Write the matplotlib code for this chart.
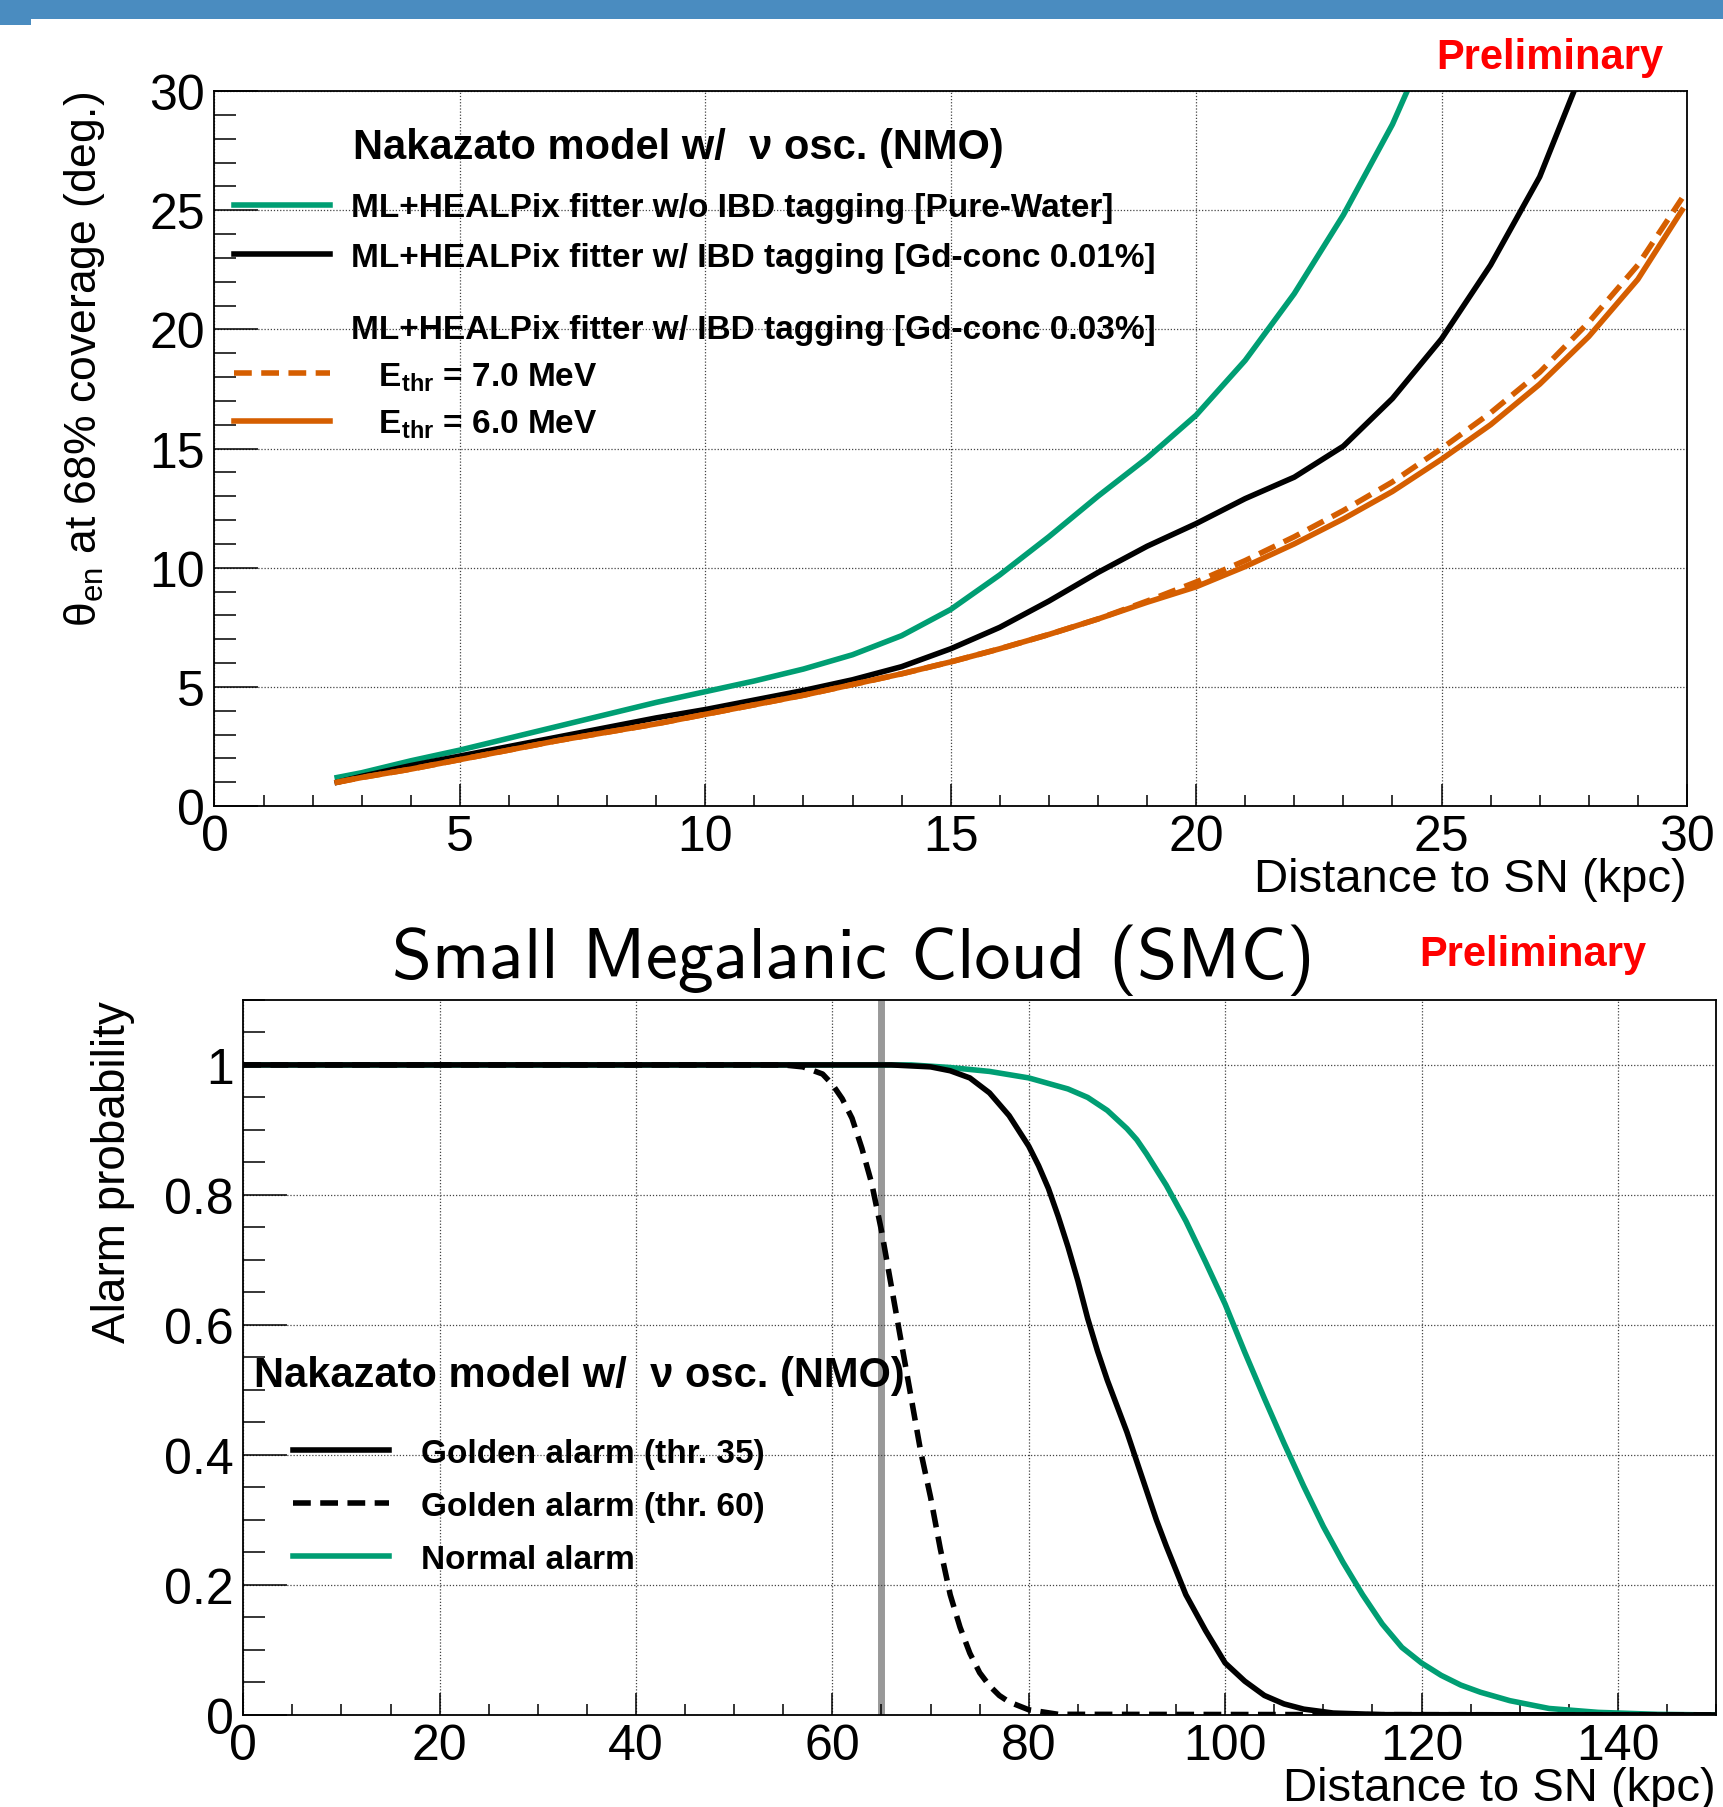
import matplotlib
matplotlib.use("Agg")
import matplotlib.pyplot as plt
from matplotlib.lines import Line2D
from matplotlib.patches import Rectangle
from matplotlib.ticker import MultipleLocator, FuncFormatter

plt.rcParams['font.family'] = ['Liberation Sans Narrow', 'Liberation Sans', 'DejaVu Sans']
plt.rcParams['mathtext.fontset'] = 'custom'
plt.rcParams['mathtext.rm'] = 'Liberation Sans'
plt.rcParams['mathtext.bf'] = 'Liberation Sans:bold'
plt.rcParams['mathtext.it'] = 'Liberation Sans:italic'

GREEN = '#009E73'
ORANGE = '#D55E00'

# ---- top panel: pointing resolution vs distance
dist_water = [2.5, 3, 4, 5, 6, 7, 8, 9, 10, 11, 12, 13, 14, 15, 16, 17, 18, 19, 20, 21, 22, 23, 24, 24.3]
theta_water = [1.2, 1.4, 1.9, 2.35, 2.85, 3.35, 3.85, 4.35, 4.8, 5.25, 5.75, 6.35, 7.15, 8.25, 9.7, 11.3,
               13.0, 14.6, 16.4, 18.7, 21.5, 24.8, 28.6, 30.0]

dist_gd01 = [2.5, 3, 4, 5, 6, 7, 8, 9, 10, 11, 12, 13, 14, 15, 16, 17, 18, 19, 20, 21, 22, 23, 24, 25,
             26, 27, 27.7]
theta_gd01 = [1.0, 1.25, 1.7, 2.1, 2.5, 2.9, 3.3, 3.7, 4.05, 4.45, 4.85, 5.3, 5.85, 6.6, 7.5, 8.6, 9.8,
              10.9, 11.85, 12.9, 13.8, 15.1, 17.1, 19.6, 22.7, 26.4, 30.0]

dist_gd03 = [2.5, 3, 4, 5, 6, 7, 8, 9, 10, 11, 12, 13, 14, 15, 16, 17, 18, 19, 20, 21, 22, 23, 24, 25,
             26, 27, 28, 29, 29.9]
theta_gd03_7mev = [1.0, 1.2, 1.55, 1.95, 2.35, 2.75, 3.1, 3.45, 3.85, 4.25, 4.65, 5.1, 5.55, 6.05, 6.6,
                   7.2, 7.85, 8.6, 9.4, 10.3, 11.3, 12.4, 13.6, 15.0, 16.5, 18.2, 20.3, 22.7, 25.5]
theta_gd03_6mev = [1.0, 1.2, 1.55, 1.95, 2.35, 2.75, 3.1, 3.45, 3.85, 4.25, 4.65, 5.1, 5.55, 6.05, 6.6,
                   7.2, 7.85, 8.55, 9.2, 10.05, 11.0, 12.05, 13.2, 14.55, 16.0, 17.7, 19.7, 22.1, 25.0]

# ---- bottom panel: alarm probability vs distance
dist_g60 = [0, 55, 57, 59, 60, 61, 62, 63, 64, 65, 66, 67, 68, 69, 70, 71, 72, 73, 74, 75, 76, 77, 78,
            80, 83, 150]
prob_g60 = [1, 1, 0.997, 0.986, 0.97, 0.948, 0.918, 0.872, 0.818, 0.745, 0.66, 0.575, 0.49, 0.405,
            0.335, 0.255, 0.185, 0.135, 0.095, 0.065, 0.045, 0.03, 0.02, 0.008, 0.001, 0]

dist_g35 = [0, 66, 70, 72, 74, 76, 78, 80, 81, 82, 83, 84, 85, 86, 87, 88, 89, 90, 91, 92, 93, 94, 96,
            98, 100, 102, 104, 106, 108, 111, 116, 150]
prob_g35 = [1, 1, 0.997, 0.991, 0.98, 0.957, 0.922, 0.875, 0.845, 0.81, 0.767, 0.72, 0.668, 0.61, 0.56,
            0.515, 0.475, 0.435, 0.39, 0.345, 0.3, 0.26, 0.185, 0.13, 0.08, 0.052, 0.03, 0.017, 0.009,
            0.003, 0.0005, 0]

dist_normal = [0, 68, 72, 76, 80, 84, 86, 88, 90, 91, 92, 94, 96, 98, 100, 102, 104, 106, 108, 110,
               112, 114, 116, 118, 120, 122, 124, 126, 129, 133, 138, 144, 150]
prob_normal = [1, 1, 0.996, 0.99, 0.98, 0.963, 0.95, 0.93, 0.902, 0.885, 0.863, 0.815, 0.76, 0.697,
               0.632, 0.558, 0.487, 0.418, 0.352, 0.29, 0.235, 0.185, 0.14, 0.104, 0.08, 0.061,
               0.046, 0.035, 0.022, 0.01, 0.004, 0.001, 0]

smc_distance = 65

LW = 4.0
DASH = (0, (3.2, 1.7))
fig = plt.figure(figsize=(17.24, 18.08), dpi=100)

# banner
fig.add_artist(Rectangle((0, 1 - 20 / 1808), 1, 20 / 1808, transform=fig.transFigure,
                         color='#4a8cc0', lw=0))
fig.add_artist(Rectangle((0, 1 - 26 / 1808), 31 / 1724, 7 / 1808, transform=fig.transFigure,
                         color='#4a8cc0', lw=0))


def root_style(ax, xmaj, xmin, ymaj, ymin, fmt):
    ax.xaxis.set_major_locator(MultipleLocator(xmaj))
    ax.xaxis.set_minor_locator(MultipleLocator(xmin))
    ax.yaxis.set_major_locator(MultipleLocator(ymaj))
    ax.yaxis.set_minor_locator(MultipleLocator(ymin))
    ax.yaxis.set_major_formatter(FuncFormatter(fmt))
    ax.xaxis.set_major_formatter(FuncFormatter(lambda v, p: '%g' % v))
    ax.tick_params(axis='both', which='both', direction='in', width=1.1, labelsize=36)
    ax.tick_params(axis='x', which='major', length=16, pad=6)
    ax.tick_params(axis='x', which='minor', length=8)
    ax.tick_params(axis='y', which='major', length=32, pad=7)
    ax.tick_params(axis='y', which='minor', length=15.5)
    ax.grid(True, which='major', ls=(0, (1, 1.5)), lw=0.9, color='#444444')
    for s in ax.spines.values():
        s.set_linewidth(1.3)


# ---------------- top panel
ax1 = fig.add_axes([0.1244, 0.5536, 0.8541, 0.3955])
ax1.plot(dist_water, theta_water, color=GREEN, lw=LW)
ax1.plot(dist_gd01, theta_gd01, color='black', lw=LW)
ax1.plot(dist_gd03, theta_gd03_7mev, color=ORANGE, lw=LW, ls=DASH)
ax1.plot(dist_gd03, theta_gd03_6mev, color=ORANGE, lw=LW)
ax1.set_xlim(0, 30)
ax1.set_ylim(0, 30)
root_style(ax1, 5, 1, 5, 1, lambda v, p: '%g' % v)
ax1.set_xlabel('Distance to SN (kpc)', fontsize=34, loc='right')
ax1.xaxis.set_label_coords(1, -0.071)
ax1.set_ylabel(r'θ$_{\rm en}$ at 68% coverage (deg.)', fontsize=32, loc='top')
ax1.yaxis.set_label_coords(-0.073, 1)

ax1.text(0.094, 0.922, 'Nakazato model w/  ν osc. (NMO)', transform=ax1.transAxes,
         ha='left', va='center', fontsize=30, weight='bold')
h_a = [Line2D([], [], color=GREEN, lw=LW), Line2D([], [], color='black', lw=LW)]
leg_a = ax1.legend(h_a, ['ML+HEALPix fitter w/o IBD tagging [Pure-Water]',
                         'ML+HEALPix fitter w/ IBD tagging [Gd-conc 0.01%]'],
                   loc='center left', bbox_to_anchor=(0.013, 0.802), frameon=False,
                   borderpad=0, borderaxespad=0, handlelength=2.9, handletextpad=0.62,
                   labelspacing=0.55, prop={'size': 24, 'weight': 'bold'})
ax1.add_artist(leg_a)
h_b = [Line2D([], [], lw=0), Line2D([], [], color=ORANGE, lw=LW, ls=DASH),
       Line2D([], [], color=ORANGE, lw=LW)]
ax1.legend(h_b, ['ML+HEALPix fitter w/ IBD tagging [Gd-conc 0.03%]',
                 r'   $\mathbf{E_{thr}}$ = 7.0 MeV', r'   $\mathbf{E_{thr}}$ = 6.0 MeV'],
           loc='center left', bbox_to_anchor=(0.013, 0.600), frameon=False,
           borderpad=0, borderaxespad=0, handlelength=2.9, handletextpad=0.62,
           labelspacing=0.45, prop={'size': 24, 'weight': 'bold'})

# ---------------- bottom panel
ax2 = fig.add_axes([0.1411, 0.0509, 0.8543, 0.3955])
ax2.axvline(smc_distance, ymin=0, ymax=0.995, color='#999999', lw=5, zorder=1)
ax2.plot(dist_g35, prob_g35, color='black', lw=LW, zorder=3)
ax2.plot(dist_g60, prob_g60, color='black', lw=LW, ls=DASH, zorder=3)
ax2.plot(dist_normal, prob_normal, color=GREEN, lw=LW, zorder=2)
ax2.set_xlim(0, 150)
ax2.set_ylim(0, 1.1)
root_style(ax2, 20, 5, 0.2, 0.05, lambda v, p: '%g' % round(v, 2))
ax2.set_xlabel('Distance to SN (kpc)', fontsize=34, loc='right')
ax2.xaxis.set_label_coords(1, -0.071)
ax2.set_ylabel('Alarm probability', fontsize=33, loc='top')
ax2.yaxis.set_label_coords(-0.0735, 1)

ax2.text(0.007, 0.476, 'Nakazato model w/  ν osc. (NMO)', transform=ax2.transAxes,
         ha='left', va='center', fontsize=30, weight='bold')
h_c = [Line2D([], [], color='black', lw=LW), Line2D([], [], color='black', lw=LW, ls=DASH),
       Line2D([], [], color=GREEN, lw=LW)]
ax2.legend(h_c, ['Golden alarm (thr. 35)', 'Golden alarm (thr. 60)', 'Normal alarm'],
           loc='center left', bbox_to_anchor=(0.034, 0.292), frameon=False,
           borderpad=0, borderaxespad=0, handlelength=2.87, handletextpad=0.97,
           labelspacing=0.66, prop={'size': 24, 'weight': 'bold'})

fig.text(0.495, 0.469, 'Small Megalanic Cloud (SMC)', family='cmss10', fontsize=52,
         ha='center', va='center')
fig.text(0.965, 0.968, 'Preliminary', color='red', weight='bold', fontsize=30,
         ha='right', va='center')
fig.text(0.955, 0.472, 'Preliminary', color='red', weight='bold', fontsize=30,
         ha='right', va='center')

fig.savefig('out.png', dpi=100)
